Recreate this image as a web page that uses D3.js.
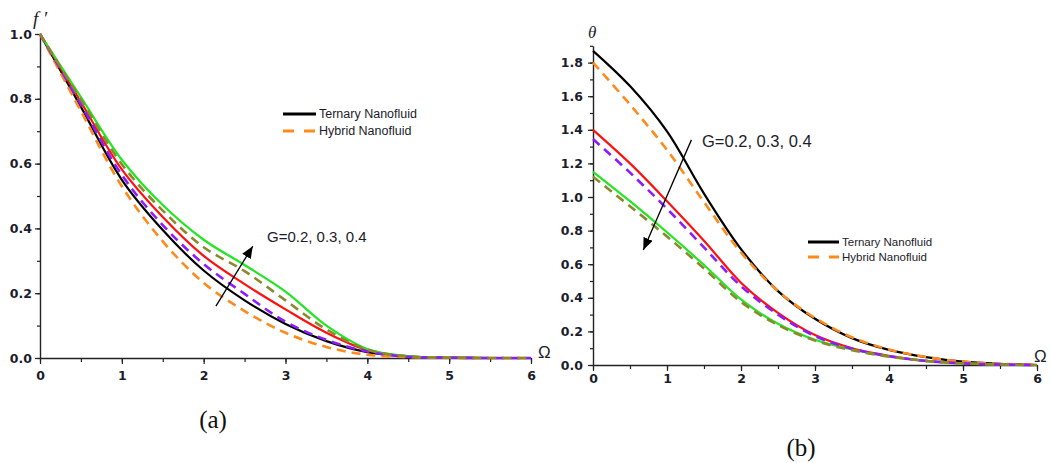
<!DOCTYPE html>
<html>
<head>
<meta charset="utf-8">
<script src="https://cdn.jsdelivr.net/npm/d3@7"></script>
<style>
	body{margin:0;background:#fff;}
	svg{display:block;}
</style>
</head>
<body>
<div id="chart"></div>
<script>
// Omega grid shared by all the curves
var omega = [0,0.5,1,1.5,2,2.5,3,3.5,4,4.5,5,5.5,6];

// (a) velocity f' : ternary (solid) and hybrid (dashed), G = 0.2, 0.3, 0.4
var fTer02 = [1.0,0.775,0.550,0.395,0.270,0.178,0.105,0.052,0.018,0.004,0.001,0,0];
var fTer03 = [1.0,0.790,0.582,0.435,0.315,0.228,0.150,0.078,0.024,0.005,0.001,0,0];
var fTer04 = [1.0,0.805,0.612,0.472,0.365,0.287,0.205,0.100,0.028,0.006,0.001,0,0];
var fHyb02 = [1.0,0.762,0.530,0.360,0.232,0.145,0.078,0.034,0.010,0.003,0.001,0,0];
var fHyb03 = [1.0,0.782,0.565,0.410,0.290,0.198,0.112,0.056,0.020,0.004,0.001,0,0];
var fHyb04 = [1.0,0.797,0.598,0.455,0.342,0.268,0.178,0.088,0.026,0.005,0.001,0,0];

// (b) temperature theta
var tTer02 = [1.87,1.66,1.39,1.02,0.69,0.44,0.275,0.160,0.090,0.047,0.020,0.007,0];
var tTer03 = [1.40,1.20,0.975,0.74,0.49,0.31,0.178,0.100,0.055,0.025,0.010,0.003,0];
var tTer04 = [1.15,0.975,0.79,0.595,0.39,0.245,0.150,0.092,0.052,0.025,0.010,0.003,0];
var tHyb02 = [1.80,1.55,1.28,0.97,0.67,0.44,0.280,0.165,0.092,0.048,0.020,0.007,0];
var tHyb03 = [1.345,1.145,0.93,0.70,0.47,0.30,0.172,0.097,0.052,0.024,0.010,0.003,0];
var tHyb04 = [1.12,0.945,0.765,0.575,0.375,0.238,0.145,0.088,0.050,0.024,0.010,0.003,0];

var xTicks = [0,1,2,3,4,5,6];
var fTicks = [0,0.2,0.4,0.6,0.8,1.0];
var tTicks = [0,0.2,0.4,0.6,0.8,1.0,1.2,1.4,1.6,1.8];
var legendLabels = ["Ternary Nanofluid","Hybrid Nanofluid"];
var gLabel = "G=0.2, 0.3, 0.4";

var W = 1051, H = 463;
var svg = d3.select("#chart").append("svg").attr("width",W).attr("height",H);

var defs = svg.append("defs");
defs.append("marker")
	.attr("id","head")
	.attr("viewBox","0 0 12 10")
	.attr("refX",12).attr("refY",5)
	.attr("markerWidth",12).attr("markerHeight",10)
	.attr("markerUnits","userSpaceOnUse")
	.attr("orient","auto")
	.append("path").attr("d","M0,0 L12,5 L0,10 Z").attr("fill","#000");

// solid ones first, dashed drawn over them
function series(ter02,ter03,ter04,hyb02,hyb03,hyb04){
	return [
		{v:ter02, color:"#000000", dash:null},
		{v:ter03, color:"#ff1010", dash:null},
		{v:ter04, color:"#22e622", dash:null},
		{v:hyb02, color:"#ff8a1c", dash:"9,6"},
		{v:hyb03, color:"#8c1cff", dash:"9,6"},
		{v:hyb04, color:"#8a8a2c", dash:"9,6"}
	];
}

function drawPanel(o){
	var g = svg.append("g");
	var x = d3.scaleLinear().domain([0,6]).range(o.xr);
	var y = d3.scaleLinear().domain(o.yd).range(o.yr);
	var minorX = d3.range(0,6.01,0.5);
	var minorY = d3.range(0,o.yd[1]+0.001,0.1);

	// minor ticks
	g.append("g").attr("transform","translate(0,"+o.yr[0]+")")
		.call(d3.axisBottom(x).tickValues(minorX).tickSize(4).tickFormat(""))
		.call(function(s){s.select(".domain").remove();});
	g.append("g").attr("transform","translate("+o.xr[0]+",0)")
		.call(d3.axisLeft(y).tickValues(minorY).tickSize(3).tickFormat(""))
		.call(function(s){s.select(".domain").remove();});

	g.append("g").attr("transform","translate(0,"+o.yr[0]+")")
		.call(d3.axisBottom(x).tickValues(xTicks).tickSize(6).tickPadding(o.xPad).tickSizeOuter(0).tickFormat(d3.format("d")));
	g.append("g").attr("transform","translate("+o.xr[0]+",0)")
		.call(d3.axisLeft(y).tickValues(o.yTicks).tickSize(5).tickPadding(o.yPad).tickSizeOuter(0).tickFormat(d3.format(".1f")));
	g.selectAll(".tick line").attr("stroke","#222").attr("stroke-width",1.2);
	g.selectAll(".domain").attr("stroke","#222").attr("stroke-width",1.4);
	g.selectAll(".tick text")
		.attr("fill","#1c1c2a")
		.style("font-family","DejaVu Sans, Verdana, sans-serif")
		.style("font-weight","bold")
		.style("font-size","12.5px");

	var line = d3.line()
		.x(function(d){return x(d[0]);})
		.y(function(d){return y(d[1]);})
		.curve(d3.curveCatmullRom.alpha(0.5));

	g.selectAll("path.curve")
		.data(o.series)
		.enter()
		.append("path")
		.attr("class","curve")
		.attr("d",function(s){return line(omega.map(function(w,i){return [w,s.v[i]];}));})
		.attr("fill","none")
		.attr("stroke",function(s){return s.color;})
		.attr("stroke-width",function(s){return s.dash ? 2.6 : 2.2;})
		.attr("stroke-dasharray",function(s){return s.dash;});

	// arrow showing growth of G
	g.append("line")
		.attr("x1",x(o.arrow[0])).attr("y1",y(o.arrow[1]))
		.attr("x2",x(o.arrow[2])).attr("y2",y(o.arrow[3]))
		.attr("stroke","#000").attr("stroke-width",1.3)
		.attr("marker-end","url(#head)");

	g.append("text")
		.attr("x",o.gPos[0]).attr("y",o.gPos[1])
		.style("font-family","Liberation Sans, Arial, sans-serif")
		.style("font-size",o.gSize+"px")
		.attr("fill","#1c1c2a")
		.text(gLabel);

	// legend
	var lg = g.append("g").attr("transform","translate("+o.leg[0]+","+o.leg[1]+")");
	lg.selectAll("line")
		.data(legendLabels)
		.enter()
		.append("line")
		.attr("x1",0).attr("x2",o.leg[2])
		.attr("y1",function(d,i){return i*o.leg[3];})
		.attr("y2",function(d,i){return i*o.leg[3];})
		.attr("stroke",function(d,i){return i ? "#ff8a1c" : "#000";})
		.attr("stroke-width",3)
		.attr("stroke-dasharray",function(d,i){return i ? "11,10" : null;});
	lg.selectAll("text")
		.data(legendLabels)
		.enter()
		.append("text")
		.attr("x",o.leg[2]+3)
		.attr("y",function(d,i){return i*o.leg[3]+4;})
		.style("font-family","Liberation Sans, Arial, sans-serif")
		.style("font-size",o.legSize+"px")
		.attr("fill","#1c1c2a")
		.text(function(d){return d;});

	// axis titles
	g.append("text")
		.attr("x",o.yLab[0]).attr("y",o.yLab[1])
		.style("font-family","Liberation Serif, Times New Roman, serif")
		.style("font-style","italic")
		.style("font-size",o.yLab[2]+"px")
		.attr("fill","#1c1c2a")
		.text(o.yName);
	g.append("text")
		.attr("x",o.xLab[0]).attr("y",o.xLab[1])
		.style("font-family","Liberation Sans, Arial, sans-serif")
		.style("font-size","17px")
		.attr("fill","#1c1c2a")
		.text("\u03A9");

	g.append("text")
		.attr("x",o.cap[0]).attr("y",o.cap[1])
		.attr("text-anchor","middle")
		.style("font-family","Liberation Serif, Times New Roman, serif")
		.style("font-size","25px")
		.attr("fill","#111")
		.text(o.capText);
}

drawPanel({
	xr:[40,531], yd:[0,1], yr:[358,34], yTicks:fTicks,
	xPad:7, yPad:3,
	series:series(fTer02,fTer03,fTer04,fHyb02,fHyb03,fHyb04),
	arrow:[2.15,0.16,2.60,0.345],
	gPos:[267,242], gSize:15,
	leg:[283,114,33,17], legSize:12.5,
	yLab:[33,25,19], yName:"f \u2032",
	xLab:[538,358],
	cap:[213,428], capText:"(a)"
});

drawPanel({
	xr:[593,1037], yd:[0,1.9], yr:[365,365-1.9*168], yTicks:tTicks,
	xPad:3.5, yPad:5,
	series:series(tTer02,tTer03,tTer04,tHyb02,tHyb03,tHyb04),
	arrow:[1.33,1.34,0.68,0.685],
	gPos:[702,147], gSize:16.5,
	leg:[808,242,31,15], legSize:11.5,
	yLab:[588,38,17], yName:"\u03B8",
	xLab:[1034,362],
	cap:[801,456], capText:"(b)"
});
</script>
</body>
</html>
